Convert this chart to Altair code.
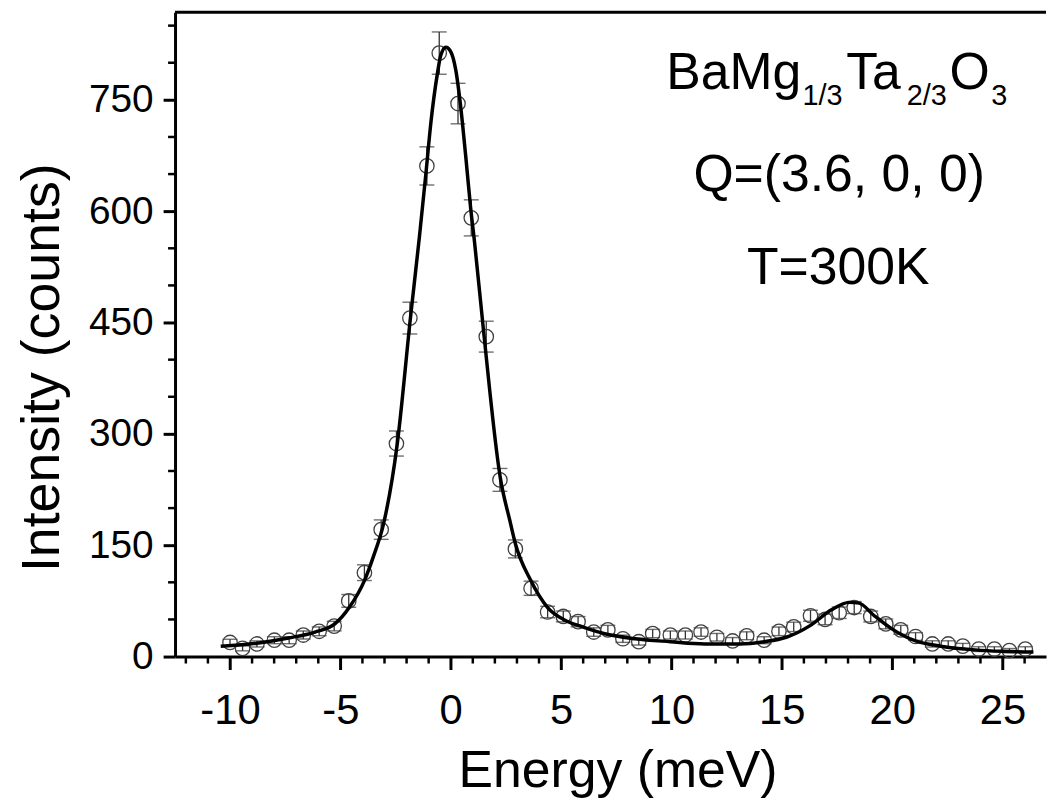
import altair as alt
import pandas as pd

# ---- measured data points (energy in meV, intensity in counts, error bar half-size)
energy = [-10.0, -9.43, -8.78, -7.99, -7.32, -6.68, -5.96, -5.28, -4.62, -3.91,
          -3.15, -2.46, -1.85, -1.08, -0.52, 0.33, 0.93, 1.61, 2.23, 2.93,
          3.64, 4.39, 5.10, 5.77, 6.48, 7.12, 7.80, 8.52, 9.15, 9.95,
          10.63, 11.34, 12.06, 12.77, 13.41, 14.20, 14.87, 15.54, 16.30, 16.96,
          17.60, 18.28, 19.03, 19.71, 20.39, 21.06, 21.82, 22.54, 23.20, 23.92,
          24.63, 25.31, 26.03]
intensity = [19, 11, 17, 22, 22, 29, 34, 41, 75, 113,
             171, 287, 456, 661, 813, 745, 591, 431, 238, 145,
             92, 60, 54, 47, 33, 36, 24, 20, 31, 29,
             29, 33, 26, 21, 28, 22, 34, 40, 55, 50,
             59, 66, 54, 44, 36, 27, 17, 17, 14, 10,
             10, 8, 10]
error = [4.3, 3.3, 4.1, 4.7, 4.7, 5.4, 5.9, 6.4, 8.6, 10.6,
         13.1, 16.9, 21.4, 25.7, 28.5, 27.3, 24.3, 20.8, 15.4, 12.1,
         9.6, 7.7, 7.3, 6.9, 5.7, 6.0, 4.9, 4.5, 5.6, 5.4,
         5.4, 5.7, 5.1, 4.6, 5.3, 4.7, 5.8, 6.3, 7.4, 7.1,
         7.7, 8.1, 7.3, 6.6, 6.0, 5.2, 4.2, 4.2, 3.7, 3.2,
         3.2, 2.8, 3.2]

# ---- fitted curve
fit_energy = [-10.42, -8.78, -7.35, -6.15, -5.25, -4.6, -3.9, -3.5, -3.05, -2.42,
              -1.83, -1.42, -1.12, -0.9, -0.6, -0.45, -0.22, 0.0, 0.23, 0.45,
              0.68, 0.9, 1.08, 1.5, 2.25, 2.68, 2.93, 3.6, 4.39, 5.18,
              5.97, 7.08, 8.35, 9.95, 11.5, 13.1, 14.2, 15.2, 16.3, 17.25,
              18.05, 18.5, 19.15, 19.95, 21.06, 22.2, 23.75, 25.0, 26.4]
fit_intensity = [14, 18, 25, 33, 44, 66, 103, 135, 178, 287,
                 455, 565, 652, 719, 786, 810, 821, 815, 790, 741,
                 674, 605, 558, 435, 240, 183, 152, 104, 66, 49,
                 40, 30, 24, 20, 17, 17, 20, 26, 42, 63,
                 73, 72, 56, 38, 21, 14, 9, 7, 6]

x_major = [-10, -5, 0, 5, 10, 15, 20, 25]
y_major = [0, 150, 300, 450, 600, 750]
x_minor = [-12, -11, -9, -8, -7, -6, -4, -3, -2, -1, 1, 2, 3, 4, 6, 7, 8, 9,
           11, 12, 13, 14, 16, 17, 18, 19, 21, 22, 23, 24, 26]
y_minor = [50, 100, 200, 250, 350, 400, 500, 550, 650, 700, 800, 850]

X_DOMAIN = [-12.49, 26.97]
Y_DOMAIN = [0, 868]
W, H = 876, 648

SANS = "Liberation Sans, Arial, sans-serif"

pts = pd.DataFrame({"E": energy, "I": intensity, "err": error})
fit = pd.DataFrame({"E": fit_energy, "I": fit_intensity})
xm = pd.DataFrame({"v": x_minor})
ym = pd.DataFrame({"v": y_minor})
one = pd.DataFrame({"a": [0]})

xscale = alt.Scale(domain=X_DOMAIN, nice=False, zero=False)
yscale = alt.Scale(domain=Y_DOMAIN, nice=False, zero=False)

xaxis = alt.Axis(values=x_major, title="Energy (meV)", grid=False,
                 labelExpr="'' + datum.value",
                 tickSize=13, tickWidth=3, tickColor="black",
                 domainWidth=3, domainColor="black",
                 labelFont=SANS, labelFontSize=42, labelColor="black",
                 labelPadding=21, labelFlush=False,
                 titleFont=SANS, titleFontSize=52, titleFontWeight="normal",
                 titleColor="black", titleBaseline="alphabetic", titleY=131,
                 titleX=445)
yaxis = alt.Axis(values=y_major, title="Intensity (counts)", grid=False,
                 tickSize=12, tickWidth=3, tickColor="black",
                 domainWidth=3, domainColor="black",
                 labelFont=SANS, labelFontSize=39, labelColor="black",
                 labelPadding=10,
                 titleFont=SANS, titleFontSize=54, titleFontWeight="normal",
                 titleColor="black", titleBaseline="middle",
                 titleX=-133, titleY=357, titleAngle=270)

base = alt.Chart(pts)

bars = base.transform_calculate(
    lo="datum.I - datum.err", hi="datum.I + datum.err"
).mark_rule(color="#333333", strokeWidth=1.3).encode(
    x=alt.X("E:Q", scale=xscale, axis=xaxis),
    y=alt.Y("lo:Q", scale=yscale, axis=yaxis),
    y2="hi:Q",
)
cap_lo = base.transform_calculate(lo="datum.I - datum.err").mark_tick(
    orient="horizontal", size=15, thickness=1.4, color="#333333"
).encode(x=alt.X("E:Q", scale=xscale), y=alt.Y("lo:Q", scale=yscale))
cap_hi = base.transform_calculate(hi="datum.I + datum.err").mark_tick(
    orient="horizontal", size=15, thickness=1.4, color="#333333"
).encode(x=alt.X("E:Q", scale=xscale), y=alt.Y("hi:Q", scale=yscale))

circles = base.mark_point(shape="circle", size=210, filled=False,
                          stroke="#404040", strokeWidth=1.3, opacity=1).encode(
    x=alt.X("E:Q", scale=xscale), y=alt.Y("I:Q", scale=yscale))

curve = alt.Chart(fit).mark_line(color="black", strokeWidth=3.5,
                                 interpolate="monotone").encode(
    x=alt.X("E:Q", scale=xscale), y=alt.Y("I:Q", scale=yscale))

xminor = alt.Chart(xm).mark_rule(color="black", strokeWidth=2.5).encode(
    x=alt.X("v:Q", scale=xscale), y=alt.value(H), y2=alt.value(H + 7))
yminor = alt.Chart(ym).mark_rule(color="black", strokeWidth=2.5).encode(
    y=alt.Y("v:Q", scale=yscale), x=alt.value(0), x2=alt.value(-7))
topline = alt.Chart(one).mark_rule(color="black", strokeWidth=3).encode(
    x=alt.value(0), x2=alt.value(W), y=alt.value(0))


def label(text, px, py, size, align="left"):
    return alt.Chart(one).mark_text(
        text=text, font=SANS, fontSize=size, color="black",
        align=align, baseline="alphabetic"
    ).encode(x=alt.value(px - 176), y=alt.value(py - 10))


ann = [
    label("BaMg", 670, 87, 52),
    label("1/3", 807, 103, 29),
    label("Ta", 851, 87, 52),
    label("2/3", 912, 103, 29),
    label("O", 955, 87, 52),
    label("3", 997, 103, 29),
    label("Q=(3.6, 0, 0)", 844, 190, 52, "center"),
    label("T=300K", 843, 283, 52, "center"),
]

chart = alt.layer(
    bars, cap_lo, cap_hi, circles, curve, xminor, yminor, topline, *ann
).properties(
    width=W, height=H,
    autosize=alt.AutoSizeParams(type="none"),
    padding={"left": 168, "top": 2, "right": 3, "bottom": 145},
    background="white",
).configure_view(stroke=None)

chart.save("out.html", embed_options={"renderer": "svg", "actions": False})
